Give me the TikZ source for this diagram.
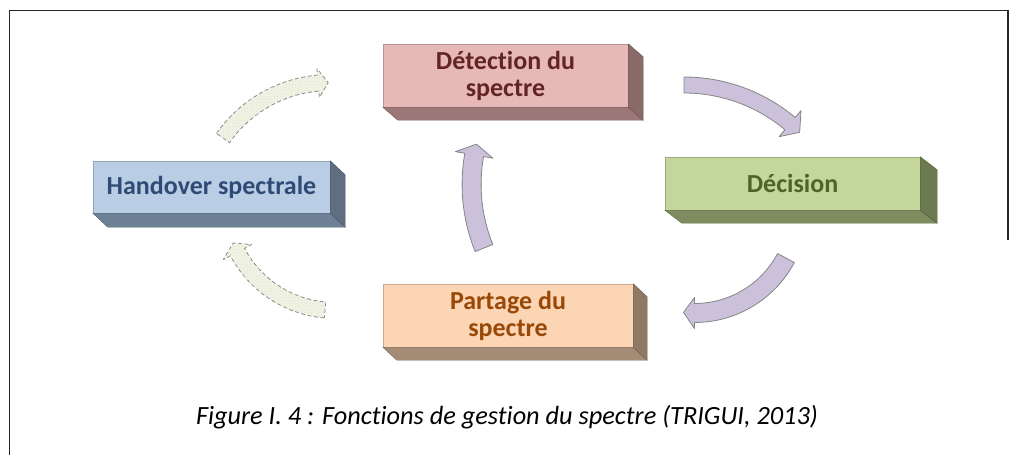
\documentclass[tikz,border=0pt]{standalone}
\usepackage{fontspec}
\setmainfont{Carlito}[RawFeature={-liga;-clig;-dlig;-calt}]
\usetikzlibrary{patterns}
\definecolor{detF}{HTML}{E6B9B8}\definecolor{detB}{HTML}{9B7877}\definecolor{detS}{HTML}{8A6A69}\definecolor{detT}{HTML}{632523}
\definecolor{hanF}{HTML}{B9CDE5}\definecolor{hanB}{HTML}{6E8096}\definecolor{hanS}{HTML}{5F6F82}\definecolor{hanT}{HTML}{2F4B75}
\definecolor{decF}{HTML}{C3D69B}\definecolor{decB}{HTML}{7E8C5F}\definecolor{decS}{HTML}{6B7A4F}\definecolor{decT}{HTML}{4F6228}
\definecolor{parF}{HTML}{FCD5B5}\definecolor{parB}{HTML}{A38B76}\definecolor{parS}{HTML}{8F7864}\definecolor{parT}{HTML}{984807}
\definecolor{arrP}{HTML}{CCC1DA}\definecolor{arrD}{HTML}{F1F4E2}\definecolor{arrE}{HTML}{858585}
\newcommand{\prismfaces}[5]{%
  \filldraw[fill=#4, draw=#4!75!black, line width=0.4pt] (#1.south west) -- (#1.south east) -- ++(#2,#3) -- ([shift={(#2,#3)}]#1.south west) -- cycle;
  \filldraw[fill=#5, draw=#5!75!black, line width=0.4pt] (#1.north east) -- ++(#2,#3) -- ([shift={(#2,#3)}]#1.south east) -- (#1.south east) -- cycle;}
\newcommand{\curvedarrow}[9]{%
  \draw[#1] ([shift={(#2,#3)}]#5:{#4+#7}) arc[start angle=#5, end angle=#6, radius={#4+#7}]
    -- ([shift={(#2,#3)}]#6:{#4+#8})
    -- ([shift={(#2,#3)}]{#6+#9/#4*57.2958}:#4)
    -- ([shift={(#2,#3)}]#6:{#4-#8})
    -- ([shift={(#2,#3)}]#6:{#4-#7})
    arc[start angle=#6, end angle=#5, radius={#4-#7}] -- cycle;}
\tikzset{
  boxfront/.style={draw=#1!80!black, fill=#1, line width=0.4pt, inner sep=0pt, align=center,
    font=\bfseries\fontsize{26}{27}\selectfont},
  purplearrow/.style={fill=arrP, draw=arrE, line width=0.8pt, line join=round},
  dasharrow/.style={fill=arrD, draw=arrE, line width=0.8pt, dash pattern=on 4pt off 2.5pt, line join=round,
    postaction={pattern=crosshatch dots, pattern color=black!12}},
  frame/.style={draw=black!85, line width=1.8pt}
}
\begin{document}
\begin{tikzpicture}[x=1pt, y=-1pt]
\useasboundingbox (0,0) rectangle (1014,455);
\coordinate (fbl) at (9.5,455);
\coordinate (ftl) at (9.5,10.5);
\coordinate (ftr) at (1008,10.5);
\coordinate (fbr) at (1008,240);
\draw[frame] (fbl) -- (ftl) -- (ftr) -- (fbr);
% boxes
\node[boxfront=detF, text=detT, minimum width=245pt, minimum height=63pt] (det) at (505.5,75.5) {Détection du\\spectre};
\prismfaces{det}{15}{13}{detB}{detS}
\node[boxfront=hanF, text=hanT, minimum width=237pt, minimum height=52pt] (han) at (211.5,187) {Handover spectrale};
\prismfaces{han}{15}{14}{hanB}{hanS}
\node[boxfront=decF, text=decT, minimum width=255pt, minimum height=53pt] (dec) at (792.5,183.5) {Décision};
\prismfaces{dec}{17}{13}{decB}{decS}
\node[boxfront=parF, text=parT, minimum width=250pt, minimum height=63pt] (par) at (508,315.5) {Partage du\\spectre};
\prismfaces{par}{14}{13}{parB}{parS}
% arrows
\curvedarrow{purplearrow}{684}{250}{165}{-90}{-50}{8}{17}{13}
\curvedarrow{purplearrow}{694.5}{209.4}{103.6}{28}{90}{9.5}{15.5}{11}
\curvedarrow{purplearrow}{641.4}{184.4}{169.8}{158}{190}{9.5}{19}{11}
\curvedarrow{dasharrow}{329.5}{212.6}{130}{-145}{-95}{8}{14.5}{10}
\curvedarrow{dasharrow}{334.6}{200.4}{110}{95}{152}{8}{16}{10}
% caption
\node[anchor=base, font=\itshape\fontsize{26.3}{30}\selectfont, inner sep=0pt] (cap) at (507,424) {Figure I. 4 : Fonctions de gestion du spectre (TRIGUI, 2013)};
\end{tikzpicture}
\end{document}
